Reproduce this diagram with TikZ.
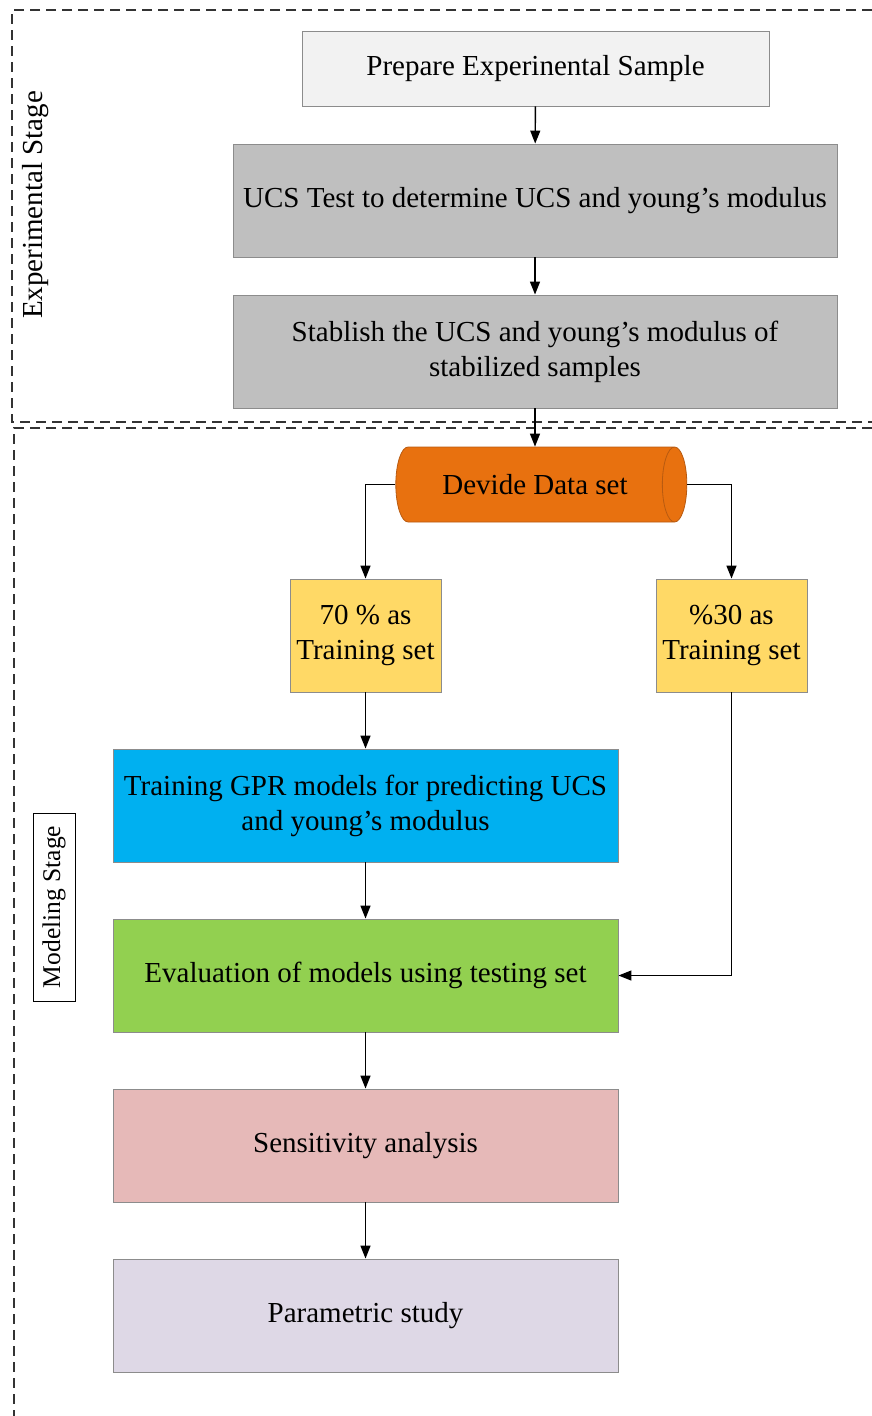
\documentclass[tikz,border=0pt]{standalone}
\usepackage{fontspec}
\setmainfont{Liberation Serif}
\usetikzlibrary{arrows.meta,shapes.geometric}

\definecolor{boxline}{HTML}{8C8C8C}
\definecolor{prepfill}{HTML}{F2F2F2}
\definecolor{testfill}{HTML}{BFBFBF}
\definecolor{cylfill}{HTML}{E8710F}
\definecolor{cylline}{HTML}{B85A10}
\definecolor{setfill}{HTML}{FFD966}
\definecolor{gprfill}{HTML}{00B0F0}
\definecolor{evalfill}{HTML}{92D050}
\definecolor{sensfill}{HTML}{E6B9B8}
\definecolor{parafill}{HTML}{DED8E6}

\tikzset{
  stagebox/.style={draw=black!80, line width=1.3pt, dash pattern=on 10pt off 6pt},
  flowbox/.style={draw=boxline, line width=0.9pt, align=center, inner sep=0pt,
    font=\fontsize{29}{35}\selectfont},
  flow/.style={-{Triangle[length=13pt,width=10pt]}, line width=1.4pt},
}

\begin{document}
\begin{tikzpicture}[x=1pt, y=-1pt, line cap=butt, line join=miter]
\useasboundingbox (0,0) rectangle (872,1416);

% ---------- stage frames ----------
\draw[stagebox] (872,10) -- (12,10) -- (12,422) -- (872,422);
\draw[stagebox] (872,428) -- (14,428) -- (14,1416);
\node[rotate=90, font=\fontsize{29}{35}\selectfont] (expstage) at (36,205) {Experimental Stage};
\node[rotate=90, draw=black, line width=0.9pt, minimum width=188pt, minimum height=42pt,
  inner sep=0pt, font=\fontsize{25.5}{30}\selectfont] (modstage) at (54,907) {Modeling Stage};

% ---------- experimental stage ----------
\node[flowbox, fill=prepfill, minimum width=467pt, minimum height=75pt] (prep) at (535.5,68.5)
  {Prepare Experinental Sample};
\node[flowbox, fill=testfill, minimum width=604pt, minimum height=113pt] (ucs) at (535,200.5)
  {UCS Test to determine UCS and young’s modulus};
\node[flowbox, fill=testfill, minimum width=604pt, minimum height=113pt] (stab) at (535,351.5)
  {Stablish the UCS and young’s modulus of\\ stabilized samples};

% ---------- modeling stage ----------
\node[cylinder, shape aspect=1.2, draw=cylline, line width=0.8pt, fill=cylfill,
  minimum width=75pt, minimum height=291pt, inner sep=0pt,
  font=\fontsize{29}{35}\selectfont] (split) at (535,484.5) {Devide Data set};

\node[flowbox, fill=setfill, minimum width=151pt, minimum height=113pt] (train) at (365.5,635.5)
  {70 \% as\\ Training set};
\node[flowbox, fill=setfill, minimum width=151pt, minimum height=113pt] (test) at (731.5,635.5)
  {\%30 as\\ Training set};

\node[flowbox, fill=gprfill, minimum width=505pt, minimum height=113pt] (gpr) at (365.5,805.5)
  {Training GPR models for predicting UCS\\ and young’s modulus};
\node[flowbox, fill=evalfill, minimum width=505pt, minimum height=113pt] (eval) at (365.5,975.5)
  {Evaluation of models using testing set};
\node[flowbox, fill=sensfill, minimum width=505pt, minimum height=113pt] (sens) at (365.5,1145.5)
  {Sensitivity analysis};
\node[flowbox, fill=parafill, minimum width=505pt, minimum height=113pt] (para) at (365.5,1315.5)
  {Parametric study};

% ---------- connectors ----------
\draw[flow] (prep) -- (ucs);
\draw[flow] (ucs) -- (stab);
\draw[flow] (stab) -- (stab.south |- split.north);
\draw[flow] (split.west) -| (train.north);
\draw[flow] (split.east) -| (test.north);
\draw[flow] (train) -- (gpr);
\draw[flow] (gpr) -- (eval);
\draw[flow] (test.south) |- (eval.east);
\draw[flow] (eval) -- (sens);
\draw[flow] (sens) -- (para);

\end{tikzpicture}
\end{document}
